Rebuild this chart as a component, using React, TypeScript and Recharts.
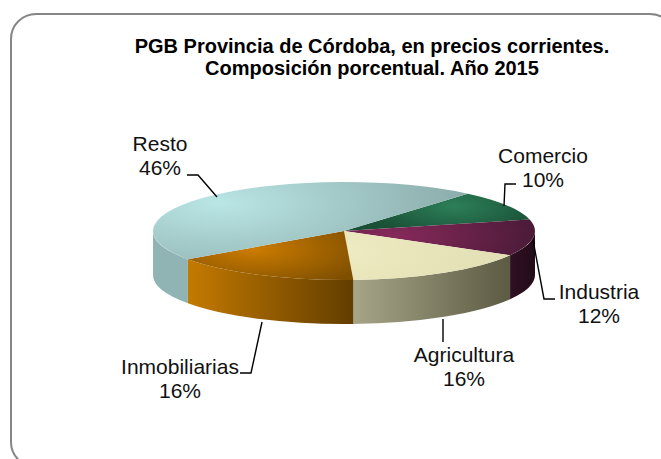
import React from "react";
import { PieChart, Pie, Cell } from "recharts";

const categories = ["Comercio", "Industria", "Agricultura", "Inmobiliarias", "Resto"];
const shares = [10, 12, 16, 16, 46];

const topStops = [
  ["#2c7f59", "#1a5036"],
  ["#87295b", "#481a36"],
  ["#efebc2", "#e0ddb2"],
  ["#cc7c00", "#7f4f00"],
  ["#bae6e6", "#8cadab"],
];
const topCentres = [
  [110, -25],
  [50, 5],
  [-20, 20],
  [-90, 18],
  [-125, -28],
];
const topRadii = [90, 150, 220, 120, 245];
const wallStops = [
  ["#1b5137", "#1b5137"],
  ["#2e1022", "#230c1a"],
  ["#a7a588", "#5c5b43"],
  ["#c47a00", "#623d00"],
  ["#90b4b4", "#90b4b4"],
];

const labelCentres = [
  [543, 163],
  [599, 299],
  [464, 362],
  [180, 374],
  [160, 151],
];
const leaders = [
  [[504, 206], [505, 184], [516, 184]],
  [[533, 240], [544, 299], [555, 299]],
  [[443, 319], [443, 342]],
  [[262, 322], [251, 373], [240, 373]],
  [[217, 197], [198, 175], [187, 175]],
];

const RY = 49;
const DEPTH = 44;
const FONT = "'Liberation Sans', Arial, sans-serif";

const table = categories.map((name, i) => ({ name, value: shares[i], idx: i }));

const rad = (d: number) => (d * Math.PI) / 180;

function Slice(props: any) {
  const { cx, cy, outerRadius: rx, startAngle: s, endAngle: e, payload } = props;
  const i = payload?.idx ?? props.idx;
  const px = (a: number) => cx + rx * Math.cos(rad(a));
  const py = (a: number) => cy - RY * Math.sin(rad(a));
  const large = Math.abs(s - e) > 180 ? 1 : 0;
  const top = `M${cx},${cy} L${px(s)},${py(s)} A${rx},${RY} 0 ${large} 1 ${px(e)},${py(e)} Z`;
  const ws = Math.min(s, 0);
  const we = Math.max(e, -180);
  const hasWall = ws > we;
  const wall = hasWall
    ? `M${px(ws)},${py(ws)} A${rx},${RY} 0 0 1 ${px(we)},${py(we)} L${px(we)},${py(we) + DEPTH} A${rx},${RY} 0 0 0 ${px(ws)},${py(ws) + DEPTH} Z`
    : "";
  const gx = cx + topCentres[i][0];
  const gy = cy + topCentres[i][1];
  const x0 = Math.min(px(ws), px(we));
  const x1 = Math.max(px(ws), px(we));
  return (
    <g>
      <defs>
        <radialGradient
          id={`top${i}`}
          gradientUnits="userSpaceOnUse"
          cx={0}
          cy={0}
          r={topRadii[i]}
          gradientTransform={`translate(${gx},${gy}) scale(1,0.35)`}
        >
          <stop offset="0" stopColor={topStops[i][0]} />
          <stop offset="1" stopColor={topStops[i][1]} />
        </radialGradient>
        <linearGradient id={`wall${i}`} gradientUnits="userSpaceOnUse" x1={x0} y1={0} x2={x1} y2={0}>
          <stop offset="0" stopColor={wallStops[i][0]} />
          <stop offset="1" stopColor={wallStops[i][1]} />
        </linearGradient>
      </defs>
      {hasWall && <path d={wall} fill={`url(#wall${i})`} />}
      <path d={top} fill={`url(#top${i})`} />
    </g>
  );
}

function SliceLabel(props: any) {
  const i = props.index;
  const [x, y] = labelCentres[i];
  const pts = leaders[i].map((p) => p.join(",")).join(" ");
  return (
    <g>
      <polyline points={pts} fill="none" stroke="#000" strokeWidth={1.4} />
      <text x={x} y={y} textAnchor="middle" fontFamily={FONT} fontSize={21} fill="#111">
        {table[i].name}
      </text>
      <text x={x} y={y + 23.5} textAnchor="middle" fontFamily={FONT} fontSize={21} fill="#111">
        {`${table[i].value}%`}
      </text>
    </g>
  );
}

export default function App() {
  return (
    <div style={{ position: "absolute", left: 0, top: 0, width: 661, height: 459, overflow: "hidden", background: "#fff" }}>
      <PieChart width={661} height={459} margin={{ top: 0, right: 0, bottom: 0, left: 0 }}>
        <rect x={11} y={14} width={664} height={453} rx={25} ry={25} fill="#fff" stroke="#868686" strokeWidth={2} />
        <text x={372} y={53} textAnchor="middle" fontFamily={FONT} fontSize={20} fontWeight="bold" fill="#000">
          PGB Provincia de Córdoba, en precios corrientes.
        </text>
        <text x={372} y={75} textAnchor="middle" fontFamily={FONT} fontSize={20} fontWeight="bold" fill="#000">
          Composición porcentual. Año 2015
        </text>
        <Pie
          data={table}
          dataKey="value"
          nameKey="name"
          cx={344}
          cy={231}
          outerRadius={191}
          innerRadius={0}
          startAngle={49.6}
          endAngle={-310.4}
          stroke="none"
          isAnimationActive={false}
          shape={Slice}
          label={SliceLabel}
          labelLine={false}
        >
          {table.map((d) => (
            <Cell key={d.name} />
          ))}
        </Pie>
      </PieChart>
    </div>
  );
}
